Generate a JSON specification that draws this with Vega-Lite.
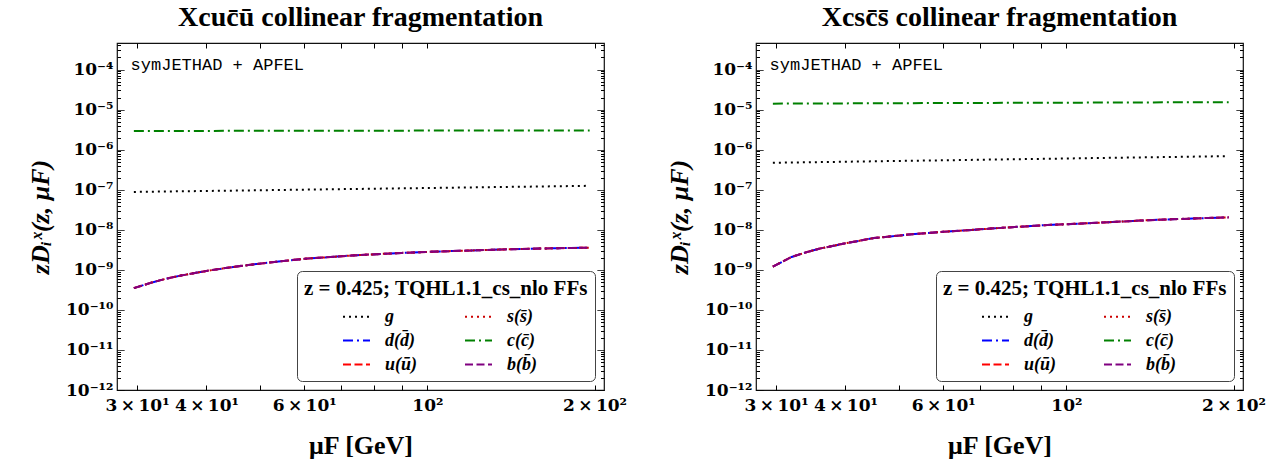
{
  "$schema": "https://vega.github.io/schema/vega-lite/v6.json",
  "background": "white",
  "padding": {"left": 26, "top": 3, "right": 5, "bottom": 5},
  "bounds": "flush",
  "spacing": 152,
  "resolve": {
    "scale": {"color": "independent", "strokeDash": "independent"},
    "legend": {"color": "independent", "strokeDash": "independent"}
  },
  "datasets": {
    "cu": [
      {"mu": 29.6, "g": 8.8e-8, "d": 3.5e-10, "u": 3.5e-10, "s": 3.5e-10, "c": 2.92e-6, "b": 3.5e-10},
      {"mu": 32, "g": 8.93e-8, "d": 4.9e-10, "u": 4.9e-10, "s": 4.9e-10, "c": 2.925e-6, "b": 4.9e-10},
      {"mu": 34, "g": 9.03e-8, "d": 6.1e-10, "u": 6.1e-10, "s": 6.1e-10, "c": 2.93e-6, "b": 6.1e-10},
      {"mu": 36, "g": 9.13e-8, "d": 7.2e-10, "u": 7.2e-10, "s": 7.2e-10, "c": 2.935e-6, "b": 7.2e-10},
      {"mu": 40, "g": 9.31e-8, "d": 9.4e-10, "u": 9.4e-10, "s": 9.4e-10, "c": 2.94e-6, "b": 9.4e-10},
      {"mu": 45, "g": 9.51e-8, "d": 1.2e-9, "u": 1.2e-9, "s": 1.2e-9, "c": 2.95e-6, "b": 1.2e-9},
      {"mu": 52, "g": 9.77e-8, "d": 1.53e-9, "u": 1.53e-9, "s": 1.53e-9, "c": 2.96e-6, "b": 1.53e-9},
      {"mu": 60, "g": 1.003e-7, "d": 1.88e-9, "u": 1.88e-9, "s": 1.88e-9, "c": 2.965e-6, "b": 1.88e-9},
      {"mu": 73, "g": 1.041e-7, "d": 2.28e-9, "u": 2.28e-9, "s": 2.28e-9, "c": 2.975e-6, "b": 2.28e-9},
      {"mu": 90, "g": 1.082e-7, "d": 2.65e-9, "u": 2.65e-9, "s": 2.65e-9, "c": 2.985e-6, "b": 2.65e-9},
      {"mu": 111, "g": 1.125e-7, "d": 2.95e-9, "u": 2.95e-9, "s": 2.95e-9, "c": 2.995e-6, "b": 2.95e-9},
      {"mu": 136, "g": 1.169e-7, "d": 3.22e-9, "u": 3.22e-9, "s": 3.22e-9, "c": 3.005e-6, "b": 3.22e-9},
      {"mu": 160, "g": 1.204e-7, "d": 3.4e-9, "u": 3.4e-9, "s": 3.4e-9, "c": 3.01e-6, "b": 3.4e-9},
      {"mu": 180, "g": 1.231e-7, "d": 3.5e-9, "u": 3.5e-9, "s": 3.5e-9, "c": 3.015e-6, "b": 3.5e-9},
      {"mu": 196, "g": 1.251e-7, "d": 3.57e-9, "u": 3.57e-9, "s": 3.57e-9, "c": 3.02e-6, "b": 3.57e-9}
    ],
    "cs": [
      {"mu": 29.6, "g": 4.7e-7, "d": 1.2e-9, "u": 1.2e-9, "s": 1.2e-9, "c": 1.41e-5, "b": 1.2e-9},
      {"mu": 32, "g": 4.78e-7, "d": 2.1e-9, "u": 2.1e-9, "s": 2.1e-9, "c": 1.415e-5, "b": 2.1e-9},
      {"mu": 34, "g": 4.83e-7, "d": 2.75e-9, "u": 2.75e-9, "s": 2.75e-9, "c": 1.42e-5, "b": 2.75e-9},
      {"mu": 36, "g": 4.89e-7, "d": 3.4e-9, "u": 3.4e-9, "s": 3.4e-9, "c": 1.425e-5, "b": 3.4e-9},
      {"mu": 40, "g": 5.0e-7, "d": 4.6e-9, "u": 4.6e-9, "s": 4.6e-9, "c": 1.43e-5, "b": 4.6e-9},
      {"mu": 45, "g": 5.12e-7, "d": 6.2e-9, "u": 6.2e-9, "s": 6.2e-9, "c": 1.44e-5, "b": 6.2e-9},
      {"mu": 52, "g": 5.27e-7, "d": 7.6e-9, "u": 7.6e-9, "s": 7.6e-9, "c": 1.45e-5, "b": 7.6e-9},
      {"mu": 60, "g": 5.42e-7, "d": 8.9e-9, "u": 8.9e-9, "s": 8.9e-9, "c": 1.46e-5, "b": 8.9e-9},
      {"mu": 73, "g": 5.65e-7, "d": 1.07e-8, "u": 1.07e-8, "s": 1.07e-8, "c": 1.47e-5, "b": 1.07e-8},
      {"mu": 90, "g": 5.89e-7, "d": 1.29e-8, "u": 1.29e-8, "s": 1.29e-8, "c": 1.485e-5, "b": 1.29e-8},
      {"mu": 111, "g": 6.15e-7, "d": 1.47e-8, "u": 1.47e-8, "s": 1.47e-8, "c": 1.495e-5, "b": 1.47e-8},
      {"mu": 136, "g": 6.41e-7, "d": 1.7e-8, "u": 1.7e-8, "s": 1.7e-8, "c": 1.51e-5, "b": 1.7e-8},
      {"mu": 160, "g": 6.62e-7, "d": 1.86e-8, "u": 1.86e-8, "s": 1.86e-8, "c": 1.52e-5, "b": 1.86e-8},
      {"mu": 180, "g": 6.78e-7, "d": 1.97e-8, "u": 1.97e-8, "s": 1.97e-8, "c": 1.525e-5, "b": 1.97e-8},
      {"mu": 196, "g": 6.9e-7, "d": 2.04e-8, "u": 2.04e-8, "s": 2.04e-8, "c": 1.53e-5, "b": 2.04e-8}
    ]
  },
  "config": {
    "view": {"stroke": "#111", "strokeWidth": 1.2},
    "font": "Liberation Serif",
    "title": {"font": "Liberation Serif", "fontSize": 28, "fontWeight": "bold", "anchor": "middle", "frame": "group", "offset": 4, "color": "black"},
    "axis": {
      "grid": false, "domain": false, "tickColor": "black", "tickWidth": 1,
      "labelFont": "DejaVu Serif", "labelFontWeight": "bold", "labelFontSize": 17, "labelColor": "black",
      "labelOverlap": false, "labelFlush": false,
      "titleFont": "Liberation Serif", "titleFontWeight": "bold", "titleColor": "black"
    },
    "legend": {
      "orient": "bottom-right", "offset": 9, "columns": 2,
      "titleFont": "Liberation Serif", "titleFontSize": 21, "titleFontWeight": "bold", "titleColor": "black", "titlePadding": 3, "titleLimit": 400,
      "labelFont": "Liberation Serif", "labelFontSize": 18, "labelFontStyle": "italic", "labelFontWeight": "bold", "labelColor": "black",
      "symbolType": "stroke", "symbolSize": 729, "symbolStrokeWidth": 2,
      "fillColor": "white", "strokeColor": "#444", "cornerRadius": 5, "padding": 7,
      "rowPadding": 0, "columnPadding": 8, "labelOffset": 14, "symbolOffset": 38
    }
  },
  "hconcat": [
    {
      "width": 487, "height": 347,
      "title": "Xcuc\u0304\u016b collinear fragmentation",
      "layer": [
        {
          "data": {"name": "cu"},
          "transform": [{"fold": ["g", "d", "u", "s", "c", "b"], "as": ["parton", "value"]}],
          "mark": {"type": "line", "strokeWidth": 2},
          "encoding": {
            "x": {"field": "mu", "type": "quantitative",
              "scale": {"type": "log", "domain": [27.6, 208], "nice": false},
              "axis": {"orient": "bottom", "values": [30, 40, 50, 60, 70, 80, 90, 100, 200],
                "labelExpr": "datum.value == 30 ? '3\u2009×\u200910¹' : datum.value == 40 ? '4\u2009×\u200910¹' : datum.value == 60 ? '6\u2009×\u200910¹' : datum.value == 100 ? '10²' : datum.value == 200 ? '2\u2009×\u200910²' : ''",
                "tickSize": -5, "labelPadding": 12, "title": "μF [GeV]", "titleFontSize": 26, "titlePadding": 19}},
            "y": {"field": "value", "type": "quantitative",
              "scale": {"type": "log", "domain": [1e-12, 4.6e-4], "nice": false},
              "axis": {"orient": "left",
                "values": [1e-12,2e-12,3e-12,4e-12,5e-12,6e-12,7e-12,8e-12,9e-12,1e-11,2e-11,3e-11,4e-11,5e-11,6e-11,7e-11,8e-11,9e-11,1e-10,2e-10,3e-10,4e-10,5e-10,6e-10,7e-10,8e-10,9e-10,1e-9,2e-9,3e-9,4e-9,5e-9,6e-9,7e-9,8e-9,9e-9,1e-8,2e-8,3e-8,4e-8,5e-8,6e-8,7e-8,8e-8,9e-8,1e-7,2e-7,3e-7,4e-7,5e-7,6e-7,7e-7,8e-7,9e-7,1e-6,2e-6,3e-6,4e-6,5e-6,6e-6,7e-6,8e-6,9e-6,1e-5,2e-5,3e-5,4e-5,5e-5,6e-5,7e-5,8e-5,9e-5,1e-4,2e-4,3e-4,4e-4],
                "labelExpr": "abs(log(datum.value)/LN10 - round(log(datum.value)/LN10)) < 0.01 ? {'-12':'10⁻¹²','-11':'10⁻¹¹','-10':'10⁻¹⁰','-9':'10⁻⁹','-8':'10⁻⁸','-7':'10⁻⁷','-6':'10⁻⁶','-5':'10⁻⁵','-4':'10⁻⁴'}['' + round(log(datum.value)/LN10)] : ''",
                "tickSize": -7,
                "tickDash": {"condition": {"test": "abs(log(datum.value)/LN10 - round(log(datum.value)/LN10)) > 0.01", "value": [3.5, 20]}, "value": [1, 0]},
                "labelPadding": 11, "title": "zDᵢˣ(z, μF)", "titleFontSize": 26, "titleFontStyle": "italic", "titlePadding": 12}},
            "color": {"field": "parton", "type": "nominal",
              "scale": {"domain": ["g", "d", "u", "s", "c", "b"], "range": ["#000000", "#0000ff", "#ff0000", "#cc0000", "#008000", "#800080"]},
              "legend": {"title": "z = 0.425; TQHL1.1_cs_nlo FFs", "orient": "bottom-right",
                "labelExpr": "{'g':'g','d':'d(d\u0304)','u':'u(\u016b)','s':'s(s\u0304)','c':'c(c\u0304)','b':'b(b\u0304)'}[datum.label]"}},
            "strokeDash": {"field": "parton", "type": "nominal",
              "scale": {"domain": ["g", "d", "u", "s", "c", "b"], "range": [[2, 4], [10, 4, 2, 4], [8, 3.5], [2, 4], [10, 4, 2, 4], [8, 3.5]]},
              "legend": {"title": "z = 0.425; TQHL1.1_cs_nlo FFs", "orient": "bottom-right",
                "labelExpr": "{'g':'g','d':'d(d\u0304)','u':'u(\u016b)','s':'s(s\u0304)','c':'c(c\u0304)','b':'b(b\u0304)'}[datum.label]"}}
          }
        },
        {
          "data": {"values": [{}]},
          "mark": {"type": "text", "align": "left", "baseline": "middle", "font": "Liberation Mono", "fontSize": 17, "color": "black"},
          "encoding": {
            "x": {"datum": 29.2, "type": "quantitative",
              "axis": {"orient": "top", "values": [30, 40, 50, 60, 70, 80, 90, 100, 200], "labels": false, "tickSize": -5, "title": null}},
            "y": {"datum": 1.28e-4, "type": "quantitative",
              "axis": {"orient": "right", "labels": false, "title": null, "tickSize": -7,
                "values": [1e-12,2e-12,3e-12,4e-12,5e-12,6e-12,7e-12,8e-12,9e-12,1e-11,2e-11,3e-11,4e-11,5e-11,6e-11,7e-11,8e-11,9e-11,1e-10,2e-10,3e-10,4e-10,5e-10,6e-10,7e-10,8e-10,9e-10,1e-9,2e-9,3e-9,4e-9,5e-9,6e-9,7e-9,8e-9,9e-9,1e-8,2e-8,3e-8,4e-8,5e-8,6e-8,7e-8,8e-8,9e-8,1e-7,2e-7,3e-7,4e-7,5e-7,6e-7,7e-7,8e-7,9e-7,1e-6,2e-6,3e-6,4e-6,5e-6,6e-6,7e-6,8e-6,9e-6,1e-5,2e-5,3e-5,4e-5,5e-5,6e-5,7e-5,8e-5,9e-5,1e-4,2e-4,3e-4,4e-4],
                "tickDash": {"condition": {"test": "abs(log(datum.value)/LN10 - round(log(datum.value)/LN10)) > 0.01", "value": [3.5, 20]}, "value": [1, 0]}}},
            "text": {"value": "symJETHAD + APFEL"}
          }
        }
      ],
      "resolve": {"axis": {"x": "independent", "y": "independent"}}
    },
    {
      "width": 487, "height": 347,
      "title": "Xcsc\u0304s\u0304 collinear fragmentation",
      "layer": [
        {
          "data": {"name": "cs"},
          "transform": [{"fold": ["g", "d", "u", "s", "c", "b"], "as": ["parton", "value"]}],
          "mark": {"type": "line", "strokeWidth": 2},
          "encoding": {
            "x": {"field": "mu", "type": "quantitative",
              "scale": {"type": "log", "domain": [27.6, 208], "nice": false},
              "axis": {"orient": "bottom", "values": [30, 40, 50, 60, 70, 80, 90, 100, 200],
                "labelExpr": "datum.value == 30 ? '3\u2009×\u200910¹' : datum.value == 40 ? '4\u2009×\u200910¹' : datum.value == 60 ? '6\u2009×\u200910¹' : datum.value == 100 ? '10²' : datum.value == 200 ? '2\u2009×\u200910²' : ''",
                "tickSize": -5, "labelPadding": 12, "title": "μF [GeV]", "titleFontSize": 26, "titlePadding": 19}},
            "y": {"field": "value", "type": "quantitative",
              "scale": {"type": "log", "domain": [1e-12, 4.6e-4], "nice": false},
              "axis": {"orient": "left",
                "values": [1e-12,2e-12,3e-12,4e-12,5e-12,6e-12,7e-12,8e-12,9e-12,1e-11,2e-11,3e-11,4e-11,5e-11,6e-11,7e-11,8e-11,9e-11,1e-10,2e-10,3e-10,4e-10,5e-10,6e-10,7e-10,8e-10,9e-10,1e-9,2e-9,3e-9,4e-9,5e-9,6e-9,7e-9,8e-9,9e-9,1e-8,2e-8,3e-8,4e-8,5e-8,6e-8,7e-8,8e-8,9e-8,1e-7,2e-7,3e-7,4e-7,5e-7,6e-7,7e-7,8e-7,9e-7,1e-6,2e-6,3e-6,4e-6,5e-6,6e-6,7e-6,8e-6,9e-6,1e-5,2e-5,3e-5,4e-5,5e-5,6e-5,7e-5,8e-5,9e-5,1e-4,2e-4,3e-4,4e-4],
                "labelExpr": "abs(log(datum.value)/LN10 - round(log(datum.value)/LN10)) < 0.01 ? {'-12':'10⁻¹²','-11':'10⁻¹¹','-10':'10⁻¹⁰','-9':'10⁻⁹','-8':'10⁻⁸','-7':'10⁻⁷','-6':'10⁻⁶','-5':'10⁻⁵','-4':'10⁻⁴'}['' + round(log(datum.value)/LN10)] : ''",
                "tickSize": -7,
                "tickDash": {"condition": {"test": "abs(log(datum.value)/LN10 - round(log(datum.value)/LN10)) > 0.01", "value": [3.5, 20]}, "value": [1, 0]},
                "labelPadding": 11, "title": "zDᵢˣ(z, μF)", "titleFontSize": 26, "titleFontStyle": "italic", "titlePadding": 12}},
            "color": {"field": "parton", "type": "nominal",
              "scale": {"domain": ["g", "d", "u", "s", "c", "b"], "range": ["#000000", "#0000ff", "#ff0000", "#cc0000", "#008000", "#800080"]},
              "legend": {"title": "z = 0.425; TQHL1.1_cs_nlo FFs", "orient": "bottom-right",
                "labelExpr": "{'g':'g','d':'d(d\u0304)','u':'u(\u016b)','s':'s(s\u0304)','c':'c(c\u0304)','b':'b(b\u0304)'}[datum.label]"}},
            "strokeDash": {"field": "parton", "type": "nominal",
              "scale": {"domain": ["g", "d", "u", "s", "c", "b"], "range": [[2, 4], [10, 4, 2, 4], [8, 3.5], [2, 4], [10, 4, 2, 4], [8, 3.5]]},
              "legend": {"title": "z = 0.425; TQHL1.1_cs_nlo FFs", "orient": "bottom-right",
                "labelExpr": "{'g':'g','d':'d(d\u0304)','u':'u(\u016b)','s':'s(s\u0304)','c':'c(c\u0304)','b':'b(b\u0304)'}[datum.label]"}}
          }
        },
        {
          "data": {"values": [{}]},
          "mark": {"type": "text", "align": "left", "baseline": "middle", "font": "Liberation Mono", "fontSize": 17, "color": "black"},
          "encoding": {
            "x": {"datum": 29.2, "type": "quantitative",
              "axis": {"orient": "top", "values": [30, 40, 50, 60, 70, 80, 90, 100, 200], "labels": false, "tickSize": -5, "title": null}},
            "y": {"datum": 1.28e-4, "type": "quantitative",
              "axis": {"orient": "right", "labels": false, "title": null, "tickSize": -7,
                "values": [1e-12,2e-12,3e-12,4e-12,5e-12,6e-12,7e-12,8e-12,9e-12,1e-11,2e-11,3e-11,4e-11,5e-11,6e-11,7e-11,8e-11,9e-11,1e-10,2e-10,3e-10,4e-10,5e-10,6e-10,7e-10,8e-10,9e-10,1e-9,2e-9,3e-9,4e-9,5e-9,6e-9,7e-9,8e-9,9e-9,1e-8,2e-8,3e-8,4e-8,5e-8,6e-8,7e-8,8e-8,9e-8,1e-7,2e-7,3e-7,4e-7,5e-7,6e-7,7e-7,8e-7,9e-7,1e-6,2e-6,3e-6,4e-6,5e-6,6e-6,7e-6,8e-6,9e-6,1e-5,2e-5,3e-5,4e-5,5e-5,6e-5,7e-5,8e-5,9e-5,1e-4,2e-4,3e-4,4e-4],
                "tickDash": {"condition": {"test": "abs(log(datum.value)/LN10 - round(log(datum.value)/LN10)) > 0.01", "value": [3.5, 20]}, "value": [1, 0]}}},
            "text": {"value": "symJETHAD + APFEL"}
          }
        }
      ],
      "resolve": {"axis": {"x": "independent", "y": "independent"}}
    }
  ]
}
